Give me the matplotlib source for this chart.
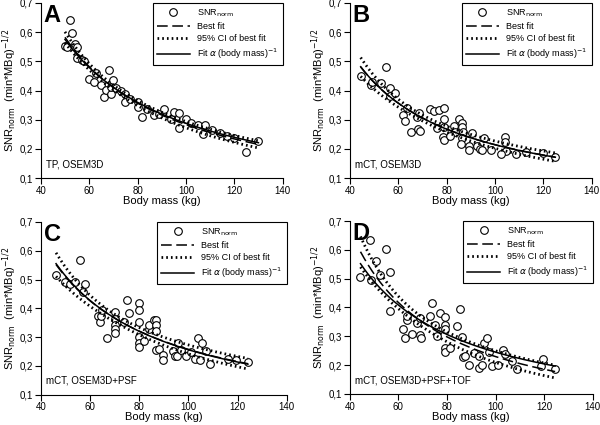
"""
SNR_norm vs body mass for four acquisition / reconstruction settings.
Power-law best fit (nonlinear least squares) with 95% CI and a 1/mass fit.
"""

import numpy as np
import matplotlib
matplotlib.use("Agg")
import matplotlib.pyplot as plt

plt.rcParams["font.family"] = ["Liberation Sans", "DejaVu Sans"]

# Panel A: TP, OSEM3D
A_mass = [50, 51, 52, 53, 54, 55, 55, 57, 58, 60, 62, 63, 65, 66, 67, 68, 69, 69,
          70, 71, 73, 75, 75, 77, 80, 80, 82, 84, 87, 89, 91, 94, 95, 97, 97,
          100, 102, 105, 108, 107, 111, 114, 117, 120, 125, 130]
A_snr = [0.553, 0.55, 0.64, 0.597, 0.56, 0.549, 0.51, 0.505, 0.50, 0.44, 0.43, 0.46,
         0.42, 0.377, 0.402, 0.47, 0.388, 0.413, 0.436, 0.41, 0.40, 0.388, 0.362, 0.37,
         0.36, 0.342, 0.31, 0.335, 0.316, 0.32, 0.336, 0.302, 0.325, 0.322,
         0.273, 0.304, 0.29, 0.283, 0.281, 0.25, 0.264, 0.255, 0.245, 0.238,
         0.191, 0.227]

# Panel B: mCT, OSEM3D
B_mass = [44.5, 48.7, 49.1, 52.8, 54.9, 56.5, 56.8, 58.6, 61.8, 62.9, 63.7, 65.3,
          67.7, 68.4, 68.9, 68.6, 73, 74.7, 76.8, 79, 79, 76.1, 79, 78.7, 78.8, 83,
          83.5, 81.5, 85.2, 86.3, 86.3, 86.8, 86.3, 86, 89.3, 89.3, 90.4, 92.6, 93.7,
          94.8, 95.4, 98.3, 104, 104, 104.6, 102.5, 108.9, 113, 119.9, 125]
B_snr = [0.45, 0.419, 0.43, 0.427, 0.479, 0.41, 0.381, 0.39, 0.317, 0.297, 0.339,
         0.259, 0.31, 0.269, 0.263, 0.322, 0.336, 0.329, 0.333, 0.339, 0.304, 0.27,
         0.276, 0.241, 0.23, 0.279, 0.258, 0.244, 0.304, 0.289, 0.276, 0.259, 0.239,
         0.218, 0.21, 0.195, 0.253, 0.209, 0.201, 0.195, 0.238, 0.195, 0.241, 0.224,
         0.193, 0.184, 0.184, 0.19, 0.186, 0.172]

# Panel C: mCT, OSEM3D+PSF
C_mass = [46.2, 50, 51.9, 53.9, 55.9, 58.1, 57.3, 63.2, 63.9, 64.5, 65, 67, 70, 70,
          70, 70, 70, 73.8, 75, 76, 80, 80, 80, 80, 80, 80, 81.9, 83.9, 83.9, 85.9,
          87, 87, 87, 86.9, 88, 89.7, 89.7, 93.6, 94.4, 95.4, 95.7, 97.1, 98.9, 101.2,
          102.5, 103.8, 104.6, 105.4, 107, 108.6, 116, 119.4, 124.2]
C_snr = [0.515, 0.491, 0.486, 0.491, 0.569, 0.486, 0.457, 0.373, 0.352, 0.373, 0.394,
         0.297, 0.387, 0.364, 0.343, 0.327, 0.314, 0.352, 0.428, 0.384, 0.42, 0.393,
         0.352, 0.30, 0.279, 0.265, 0.288, 0.329, 0.341, 0.358, 0.358, 0.341, 0.323,
         0.255, 0.258, 0.238, 0.22, 0.253, 0.235, 0.235, 0.281, 0.255, 0.233, 0.247,
         0.226, 0.296, 0.22, 0.281, 0.253, 0.207, 0.225, 0.221, 0.215]

# Panel D: mCT, OSEM3D+PSF+TOF
D_mass = [44.4, 48.5, 48.7, 50.7, 52.5, 54.8, 56.5, 56.5, 61.7, 62.8, 63.6, 63.6,
          65.8, 67.7, 68.8, 68.8, 69.1, 72.9, 74, 74.9, 75.9, 77.1, 79, 79, 79, 79,
          79, 81.1, 84.1, 85.3, 86, 86.4, 87.4, 89.2, 91.1, 93.3, 93.3, 94.3, 95.3,
          96.3, 97.4, 98.4, 101.1, 103.2, 103.9, 106.6, 108.7, 118.5, 119.6, 124.5]
D_snr = [0.505, 0.634, 0.494, 0.561, 0.514, 0.604, 0.524, 0.387, 0.324, 0.294, 0.358,
         0.37, 0.308, 0.346, 0.364, 0.306, 0.294, 0.372, 0.415, 0.34, 0.30, 0.381,
         0.368, 0.34, 0.325, 0.259, 0.244, 0.259, 0.335, 0.394, 0.296, 0.229, 0.233,
         0.199, 0.241, 0.233, 0.19, 0.199, 0.278, 0.295, 0.245, 0.196, 0.199, 0.254,
         0.24, 0.213, 0.185, 0.196, 0.222, 0.185]

PANELS = [
    ("A", "TP, OSEM3D", A_mass, A_snr, [0.068, 0.581, 0.403, 0.412]),
    ("B", "mCT, OSEM3D", B_mass, B_snr, [0.583, 0.581, 0.403, 0.412]),
    ("C", "mCT, OSEM3D+PSF", C_mass, C_snr, [0.068, 0.071, 0.41, 0.407]),
    ("D", "mCT, OSEM3D+PSF+TOF", D_mass, D_snr, [0.583, 0.073, 0.405, 0.407]),
]

T95 = 2.01  # t quantile for ~50 points


def fits(mass, snr):
    m = np.asarray(mass, float)
    y = np.asarray(snr, float)
    # power law y = a * m**b, start from log-log, refine with Gauss-Newton
    b, la = np.polyfit(np.log(m), np.log(y), 1)
    p = np.array([np.exp(la), b])
    for _ in range(50):
        J = np.column_stack([m ** p[1], p[0] * m ** p[1] * np.log(m)])
        step = np.linalg.lstsq(J, y - p[0] * m ** p[1], rcond=None)[0]
        p = p + step
    J = np.column_stack([m ** p[1], p[0] * m ** p[1] * np.log(m)])
    n = len(m)
    s2 = np.sum((y - p[0] * m ** p[1]) ** 2) / (n - 2)
    cov = s2 * np.linalg.inv(J.T @ J)

    grid = np.linspace(m.min(), m.max(), 200)
    G = np.column_stack([grid ** p[1], p[0] * grid ** p[1] * np.log(grid)])
    best = p[0] * grid ** p[1]
    half = T95 * np.sqrt(np.sum((G @ cov) * G, axis=1))
    k = np.sum(y / m) / np.sum(1 / m ** 2)
    return grid, best, best - half, best + half, k / grid


fig = plt.figure(figsize=(6, 4.25), dpi=100)

for letter, note, mass, snr, rect in PANELS:
    ax = fig.add_axes(rect)
    grid, best, lo, hi, inv = fits(mass, snr)

    pts, = ax.plot(mass, snr, "o", mfc="white", mec="black", ms=5.5, mew=0.8,
                   ls="none", zorder=2)
    bf, = ax.plot(grid, best, color="black", lw=1.1, ls=(0, (7, 3)), zorder=3)
    ci, = ax.plot(grid, lo, color="black", lw=2.0, ls=(0, (0.6, 1.1)), zorder=3)
    ax.plot(grid, hi, color="black", lw=2.0, ls=(0, (0.6, 1.1)), zorder=3)
    fit, = ax.plot(grid, inv, color="black", lw=1.1, zorder=4)

    ax.set_xlim(40, 140)
    ax.set_ylim(0.1, 0.7)
    ax.set_xticks(range(40, 141, 20))
    yt = np.arange(0.1, 0.71, 0.1)
    ax.set_yticks(yt)
    ax.set_yticklabels([f"{t:.1f}".replace(".", ",") for t in yt])
    ax.tick_params(direction="out", length=4, width=0.8, labelsize=7, pad=1.5)
    for side in ("top", "right"):
        ax.spines[side].set_visible(False)
    for side in ("left", "bottom"):
        ax.spines[side].set_linewidth(0.8)

    ax.set_xlabel("Body mass (kg)", fontsize=8, labelpad=0)
    ax.set_ylabel(r"SNR$_{\rm norm}$  (min*MBq)$^{-1/2}$", fontsize=8, labelpad=0.5)

    ax.text(0.012, 0.995, letter, transform=ax.transAxes, fontsize=17,
            fontweight="bold", ha="left", va="top")
    ax.text(0.02, 0.08, note, transform=ax.transAxes, fontsize=7,
            ha="left", va="center")

    leg = ax.legend([pts, bf, ci, fit],
                    [r"SNR$_{\rm norm}$", "Best fit", "95% CI of best fit",
                     r"Fit $\alpha$ (body mass)$^{-1}$"],
                    loc="upper right", bbox_to_anchor=(1, 1), borderaxespad=0,
                    fancybox=False, edgecolor="black", framealpha=1, fontsize=6.5,
                    handlelength=3.6, labelspacing=0.35, borderpad=0.5)
    leg.get_frame().set_linewidth(0.8)

fig.savefig("out.png", dpi=100)
